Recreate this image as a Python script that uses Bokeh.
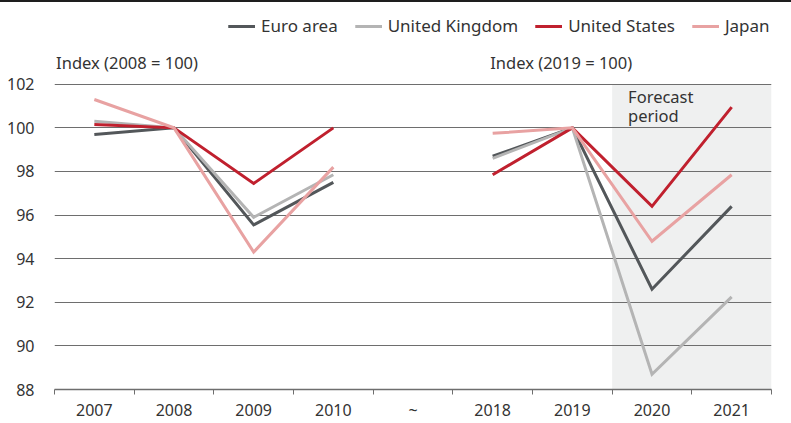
from bokeh.plotting import figure
from bokeh.models import FixedTicker, Range1d, Legend, LegendItem, Div
from bokeh.layouts import column
from bokeh.core.properties import value
from bokeh.embed import file_html
from bokeh.resources import INLINE

categories = ["2007", "2008", "2009", "2010", "~", "2018", "2019", "2020", "2021"]
years_a = ["2007", "2008", "2009", "2010"]
years_b = ["2018", "2019", "2020", "2021"]

euro_a = [99.7, 100.0, 95.55, 97.5]
euro_b = [98.7, 100.0, 92.6, 96.4]
uk_a = [100.3, 100.0, 95.9, 97.85]
uk_b = [98.6, 100.0, 88.7, 92.25]
us_a = [100.15, 100.0, 97.45, 100.0]
us_b = [97.85, 100.0, 96.4, 100.95]
jp_a = [101.3, 100.0, 94.3, 98.2]
jp_b = [99.75, 100.0, 94.8, 97.85]

y_ticks = [88, 90, 92, 94, 96, 98, 100, 102]
forecast_start = "2020"
forecast_end = "2021"

FONT = value("Noto Sans")
TXT = "#333333"


def xpos(cats):
    return [categories.index(c) + 0.5 for c in cats]


p = figure(width=791, height=421, output_backend="svg", toolbar_location=None,
           x_range=Range1d(0, len(categories)), y_range=Range1d(88, 105.75),
           min_border_left=54, min_border_right=20, min_border_top=0, min_border_bottom=33,
           outline_line_color=None, background_fill_color="white")

# forecast shading
p.quad(left=[categories.index(forecast_start)], right=[categories.index(forecast_end) + 1],
       bottom=[min(y_ticks)], top=[max(y_ticks)], fill_color="#eff0f0", line_color=None,
       level="image")

# axes
p.yaxis.ticker = FixedTicker(ticks=y_ticks)
p.yaxis.axis_line_color = None
p.yaxis.major_tick_line_color = None
p.yaxis.minor_tick_line_color = None
p.yaxis.major_label_standoff = 14
p.yaxis.major_label_text_font = "Noto Sans"
p.yaxis.major_label_text_font_size = "16px"
p.yaxis.major_label_text_color = TXT

p.xaxis.ticker = FixedTicker(ticks=[i + 0.5 for i in range(len(categories))],
                             minor_ticks=list(range(len(categories) + 1)))
p.xaxis.major_label_overrides = {i + 0.5: c for i, c in enumerate(categories)}
p.xaxis.major_tick_out = 0
p.xaxis.major_tick_in = 0
p.xaxis.minor_tick_out = 5
p.xaxis.minor_tick_in = 0
p.xaxis.minor_tick_line_color = "#6e6e6e"
p.xaxis.axis_line_color = "#6e6e6e"
p.xaxis.axis_line_width = 1.5
p.xaxis.major_label_standoff = 4
p.xaxis.major_label_text_font = "Noto Sans"
p.xaxis.major_label_text_font_size = "16px"
p.xaxis.major_label_text_color = TXT

p.xgrid.grid_line_color = None
p.ygrid.ticker = FixedTicker(ticks=y_ticks)
p.ygrid.grid_line_color = "#6e6e6e"
p.ygrid.grid_line_width = 1.2

series = [
    ("Euro area", euro_a, euro_b, "#53575a"),
    ("United Kingdom", uk_a, uk_b, "#b4b4b4"),
    ("United States", us_a, us_b, "#c0202e"),
    ("Japan", jp_a, jp_b, "#e8a2a2"),
]
items = []
for name, a, b, col in series:
    r1 = p.line(xpos(years_a), a, line_color=col, line_width=3, line_join="miter")
    r2 = p.line(xpos(years_b), b, line_color=col, line_width=3, line_join="miter")
    items.append(LegendItem(label=name, renderers=[r1, r2]))

legend = Legend(items=items, orientation="horizontal", location=(174, 352),
                margin=0, padding=5, spacing=17, label_standoff=6,
                glyph_width=27, glyph_height=20, label_height=20,
                label_text_font="Noto Sans", label_text_font_size="17px",
                label_text_color=TXT, border_line_color=None, background_fill_alpha=0)
p.add_layout(legend)

# annotations
p.text(x=[0.02], y=[103.0], text=["Index (2008 = 100)"], text_font=FONT,
       text_font_size="16.5px", text_color=TXT, text_baseline="middle", text_align="left")
p.text(x=[5.47], y=[103.0], text=["Index (2019 = 100)"], text_font=FONT,
       text_font_size="16.5px", text_color=TXT, text_baseline="middle", text_align="left")
p.text(x=[7.2, 7.2], y=[101.42, 100.58], text=["Forecast", "period"], text_font=FONT,
       text_font_size="16.5px", text_color=TXT, text_baseline="middle", text_align="left")

top_rule = Div(text='<div style="width:791px;height:2px;background:#1e1e1e;margin:0;padding:0;"></div>',
               width=791, height=2, margin=0,
               styles={"background-color": "#1e1e1e", "overflow": "hidden"})
layout = column(top_rule, p, spacing=0)

open("out.html", "w").write(file_html(layout, INLINE))
